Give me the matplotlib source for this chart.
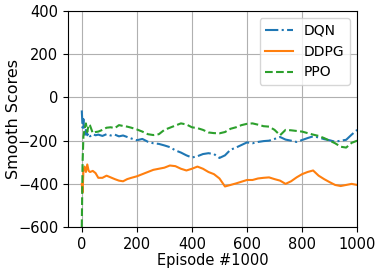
import matplotlib
matplotlib.use("Agg")
import matplotlib.pyplot as plt

episodes = [0, 3, 6, 10, 15, 20, 25, 30, 40, 50, 60, 75, 90, 105, 120, 135, 150, 165, 180,
            200, 220, 240, 260, 280, 300, 320, 340, 360, 380, 400, 420, 440, 460, 480, 500,
            520, 540, 560, 580, 600, 620, 640, 660, 680, 700, 720, 740, 760, 780, 800, 820,
            840, 860, 880, 900, 920, 940, 960, 980, 1000]

dqn = [-60, -140, -100, -180, -150, -175, -165, -180, -170, -175, -172, -178, -170, -176,
       -172, -180, -176, -183, -190, -198, -192, -205, -212, -215, -222, -230, -245, -255,
       -268, -278, -272, -262, -258, -262, -280, -268, -242, -232, -220, -208, -212, -206,
       -202, -200, -192, -183, -195, -200, -206, -197, -188, -180, -185, -193, -198, -205,
       -200, -196, -172, -150]

ddpg = [-400, -440, -340, -320, -345, -310, -340, -345, -340, -350, -372, -372, -362, -370,
        -378, -385, -388, -378, -372, -365, -355, -345, -335, -330, -325, -315, -318, -330,
        -338, -330, -320, -330, -345, -355, -375, -412, -405, -398, -390, -382, -382, -375,
        -372, -370, -378, -385, -400, -388, -370, -355, -345, -338, -362, -378, -392, -405,
        -410, -405, -400, -405]

ppo = [-600, -300, -180, -150, -120, -160, -125, -130, -165, -160, -158, -150, -140, -138,
       -142, -128, -132, -135, -140, -148, -158, -170, -174, -170, -150, -140, -130, -120,
       -125, -138, -142, -150, -162, -165, -166, -160, -145, -138, -128, -122, -120, -126,
       -133, -135, -150, -175, -150, -152, -155, -158, -165, -172, -178, -188, -200, -212,
       -228, -232, -210, -200]

fig, ax = plt.subplots(figsize=(3.82, 2.70), dpi=100)
fig.subplots_adjust(left=0.178, right=0.935, top=0.959, bottom=0.159)

ax.plot(episodes, dqn, "-.", color="tab:blue", lw=1.5, label="DQN")
ax.plot(episodes, ddpg, "-", color="tab:orange", lw=1.5, label="DDPG")
ax.plot(episodes, ppo, "--", color="tab:green", lw=1.5, label="PPO")

ax.set_xlim(-50, 1000)
ax.set_ylim(-600, 400)
ax.set_xticks([0, 200, 400, 600, 800, 1000])
ax.set_yticks([-600, -400, -200, 0, 200, 400])
ax.tick_params(labelsize=10.5)
ax.set_xlabel("Episode #1000", fontsize=10.5, labelpad=1)
ax.set_ylabel("Smooth Scores", fontsize=11.5)
ax.yaxis.set_label_coords(-0.163, 0.5)
ax.grid(True)
ax.legend(loc="upper right", fontsize=10)

plt.savefig("out.png", dpi=100)
